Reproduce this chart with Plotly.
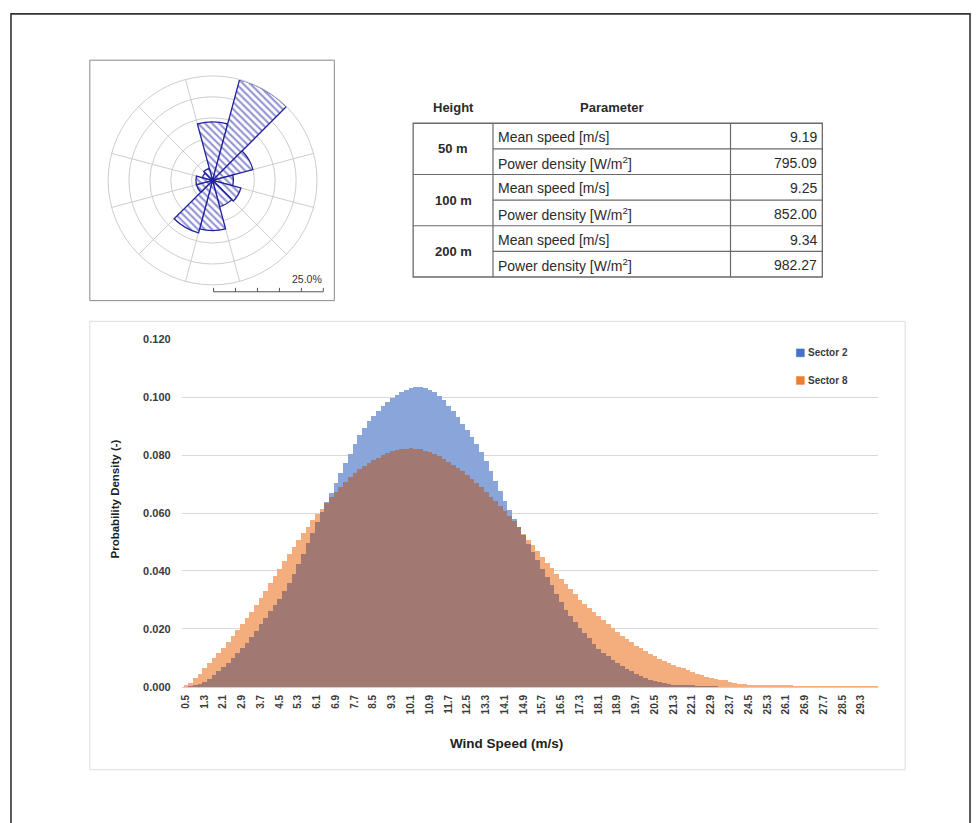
import plotly.graph_objects as go

# ---------------------------------------------------------------------------
# Data
# ---------------------------------------------------------------------------
# Wind speed bins: centres start at 0.5 m/s, 0.2 m/s wide
SPEED_START = 0.5
SPEED_STEP = 0.2

# Probability density per bin, direction sector 2
sector2_pdf = [
    0.0000, 0.0002, 0.0006, 0.0011, 0.0018, 0.0028, 0.0040, 0.0053, 0.0068, 0.0083,
    0.0099, 0.0116, 0.0133, 0.0151, 0.0172, 0.0194, 0.0216, 0.0238, 0.0260, 0.0281,
    0.0304, 0.0331, 0.0360, 0.0390, 0.0425, 0.0460, 0.0496, 0.0532, 0.0567, 0.0602,
    0.0636, 0.0670, 0.0704, 0.0738, 0.0772, 0.0805, 0.0837, 0.0868, 0.0894, 0.0916,
    0.0935, 0.0952, 0.0968, 0.0982, 0.0995, 0.1007, 0.1017, 0.1025, 0.1031, 0.1035,
    0.1035, 0.1032, 0.1025, 0.1016, 0.1004, 0.0988, 0.0970, 0.0951, 0.0930, 0.0908,
    0.0886, 0.0862, 0.0838, 0.0810, 0.0779, 0.0745, 0.0711, 0.0677, 0.0642, 0.0611,
    0.0580, 0.0552, 0.0523, 0.0494, 0.0466, 0.0437, 0.0408, 0.0380, 0.0351, 0.0322,
    0.0294, 0.0266, 0.0243, 0.0223, 0.0204, 0.0186, 0.0167, 0.0148, 0.0130, 0.0117,
    0.0105, 0.0093, 0.0083, 0.0073, 0.0063, 0.0054, 0.0046, 0.0038, 0.0030, 0.0025,
    0.0021, 0.0017, 0.0014, 0.0011, 0.0008, 0.0006, 0.0005, 0.0004, 0.0003, 0.0002,
    0.0002, 0.0001, 0.0001, 0.0001, 0.0000, 0.0000, 0.0000, 0.0000, 0.0000, 0.0000,
    0.0000, 0.0000, 0.0000, 0.0000, 0.0000, 0.0000, 0.0000, 0.0000, 0.0000, 0.0000,
    0.0000, 0.0000, 0.0000, 0.0000, 0.0000, 0.0000, 0.0000, 0.0000, 0.0000, 0.0000,
    0.0000, 0.0000, 0.0000, 0.0000, 0.0000, 0.0000, 0.0000, 0.0000,
]

# Probability density per bin, direction sector 8
sector8_pdf = [
    0.0005, 0.0015, 0.0030, 0.0046, 0.0064, 0.0081, 0.0099, 0.0117, 0.0135, 0.0155,
    0.0176, 0.0197, 0.0218, 0.0238, 0.0259, 0.0282, 0.0306, 0.0332, 0.0358, 0.0383,
    0.0408, 0.0433, 0.0458, 0.0483, 0.0507, 0.0531, 0.0553, 0.0574, 0.0595, 0.0615,
    0.0635, 0.0654, 0.0672, 0.0690, 0.0708, 0.0723, 0.0738, 0.0751, 0.0762, 0.0773,
    0.0783, 0.0791, 0.0799, 0.0806, 0.0812, 0.0817, 0.0820, 0.0822, 0.0823, 0.0822,
    0.0819, 0.0815, 0.0809, 0.0803, 0.0795, 0.0786, 0.0777, 0.0766, 0.0755, 0.0743,
    0.0730, 0.0716, 0.0702, 0.0688, 0.0672, 0.0656, 0.0640, 0.0625, 0.0608, 0.0590,
    0.0571, 0.0550, 0.0529, 0.0508, 0.0488, 0.0468, 0.0448, 0.0428, 0.0409, 0.0391,
    0.0373, 0.0355, 0.0337, 0.0319, 0.0301, 0.0287, 0.0272, 0.0258, 0.0244, 0.0230,
    0.0216, 0.0203, 0.0190, 0.0177, 0.0166, 0.0154, 0.0142, 0.0133, 0.0124, 0.0115,
    0.0106, 0.0097, 0.0089, 0.0081, 0.0075, 0.0069, 0.0064, 0.0058, 0.0051, 0.0044,
    0.0040, 0.0035, 0.0031, 0.0028, 0.0025, 0.0022, 0.0018, 0.0014, 0.0011, 0.0009,
    0.0008, 0.0007, 0.0006, 0.0005, 0.0005, 0.0004, 0.0004, 0.0003, 0.0003, 0.0003,
    0.0002, 0.0002, 0.0002, 0.0002, 0.0002, 0.0001, 0.0001, 0.0001, 0.0001, 0.0001,
    0.0001, 0.0001, 0.0001, 0.0001, 0.0001, 0.0001, 0.0001, 0.0001,
]

assert len(sector2_pdf) == len(sector8_pdf)
speeds = [round(SPEED_START + SPEED_STEP * i, 1) for i in range(len(sector2_pdf))]

# Category labels shown on the speed axis
speed_tick_labels = [
    "0.5", "1.3", "2.1", "2.9", "3.7", "4.5", "5.3", "6.1", "6.9", "7.7",
    "8.5", "9.3", "10.1", "10.9", "11.7", "12.5", "13.3", "14.1", "14.9", "15.7",
    "16.5", "17.3", "18.1", "18.9", "19.7", "20.5", "21.3", "22.1", "22.9", "23.7",
    "24.5", "25.3", "26.1", "26.9", "27.7", "28.5", "29.3",
]
speed_tick_vals = [float(t) for t in speed_tick_labels]

density_ticks = [0.0, 0.02, 0.04, 0.06, 0.08, 0.10, 0.12]

# Wind rose: frequency (%) for 12 direction sectors of 30 degrees
rose_directions = [0, 30, 60, 90, 120, 150, 180, 210, 240, 270, 300, 330]
rose_frequency = [14.0, 25.0, 10.0, 5.0, 7.0, 6.5, 12.0, 13.0, 4.0, 4.0, 2.5, 3.0]
rose_rings = [5, 10, 15, 20, 25]
rose_scale_label = "25.0%"

# Summary table
table_heights = ["50 m", "100 m", "200 m"]
table_params = ["Mean speed [m/s]", "Power density [W/m<sup>2</sup>]"]
table_mean_speed = [9.19, 9.25, 9.34]
table_power_density = [795.09, 852.00, 982.27]

# ---------------------------------------------------------------------------
# Page geometry (pixels -> paper fractions)
# ---------------------------------------------------------------------------
W, H = 977, 823


def px(x):
    return x / W


def py(y):
    return 1 - y / H


FONT = "Liberation Sans"
TXT = "#2b2b2b"
AX_TXT = "#3a3a3a"

BLUE = "rgb(68,114,196)"
ORANGE = "rgb(237,125,49)"
BLUE_FILL = "rgb(138,165,218)"
ORANGE_FILL = "rgb(244,174,126)"
MIX_FILL = "rgb(162,121,114)"

fig = go.Figure()

# Sector 2 bars, sector 8 bars, and the shared part where both overlap
fig.add_trace(go.Bar(
    x=speeds, y=sector2_pdf, width=SPEED_STEP, name="Sector 2",
    marker=dict(color=BLUE_FILL, line=dict(width=0)), showlegend=False,
    xaxis="x", yaxis="y",
))
fig.add_trace(go.Bar(
    x=speeds, y=sector8_pdf, width=SPEED_STEP, name="Sector 8",
    marker=dict(color=ORANGE_FILL, line=dict(width=0)), showlegend=False,
    xaxis="x", yaxis="y",
))
fig.add_trace(go.Bar(
    x=speeds, y=[min(a, b) for a, b in zip(sector2_pdf, sector8_pdf)],
    width=SPEED_STEP, name="overlap",
    marker=dict(color=MIX_FILL, line=dict(width=0)), showlegend=False,
    hoverinfo="skip", xaxis="x", yaxis="y",
))

# Wind rose
fig.add_trace(go.Barpolar(
    r=rose_frequency, theta=rose_directions, width=[30] * len(rose_directions),
    marker=dict(
        color="white",
        line=dict(color="#2222a0", width=1.3),
        pattern=dict(shape="\\", fgcolor="#2a2aa8", bgcolor="white",
                     size=5, solidity=0.42),
    ),
    showlegend=False, subplot="polar",
))

shapes = []
annotations = []


def line(x0, y0, x1, y1, color, width=1.0):
    shapes.append(dict(type="line", xref="paper", yref="paper",
                       x0=px(x0), y0=py(y0), x1=px(x1), y1=py(y1),
                       line=dict(color=color, width=width)))


def rect(x0, y0, x1, y1, color, width=1.0, fill=None):
    shapes.append(dict(type="rect", xref="paper", yref="paper",
                       x0=px(x0), y0=py(y0), x1=px(x1), y1=py(y1),
                       line=dict(color=color, width=width),
                       fillcolor=fill if fill else "rgba(0,0,0,0)",
                       layer="above"))


def text(x, y, s, size=13, xanchor="center", color=TXT, angle=0):
    annotations.append(dict(x=px(x), y=py(y), xref="paper", yref="paper",
                            text=s, showarrow=False, xanchor=xanchor,
                            yanchor="middle", textangle=angle,
                            font=dict(family=FONT, size=size, color=color)))


# Page frame
rect(9, 8, 970, 860, "#333333", 1.6)

# Wind rose frame, scale label and scale bar
rect(88, 55, 333, 299, "#8a8a8a", 1.0)
text(323, 277, rose_scale_label, size=10.5, xanchor="right", color="#333333")
line(212, 290, 322, 290, "#555555", 1.0)
for k in range(6):
    xt = 212 + k * 22
    line(xt, 286, xt, 290, "#555555", 1.0)

# Summary table
col_x = [412, 492, 730, 822]
row_y = [119 + 26 * k for k in range(7)]
tcol = "#6a6a6a"
rect(col_x[0], row_y[0], col_x[-1], row_y[-1], tcol, 1.3)
for xc in col_x[1:-1]:
    line(xc, row_y[0], xc, row_y[-1], tcol, 1.2)
for k in range(1, 6):
    x_start = col_x[0] if k % 2 == 0 else col_x[1]
    line(x_start, row_y[k], col_x[-1], row_y[k], tcol, 1.2)

text(452, 103, "<b>Height</b>", size=13)
text(611, 103, "<b>Parameter</b>", size=13)
for g, h in enumerate(table_heights):
    text((col_x[0] + col_x[1]) / 2, row_y[2 * g + 1], f"<b>{h}</b>", size=13)
    values = [table_mean_speed[g], table_power_density[g]]
    for j in range(2):
        yc = (row_y[2 * g + j] + row_y[2 * g + j + 1]) / 2 + 1
        text(col_x[1] + 3, yc, table_params[j], size=14, xanchor="left")
        text(col_x[3] - 3, yc, f"{values[j]:.2f}", size=14, xanchor="right")

# Chart frame
rect(88, 320, 905, 775, "#dcdcdc", 1.0)

# Legend
for yy, col, name in [(352, BLUE, "Sector 2"), (380, ORANGE, "Sector 8")]:
    rect(796, yy - 4, 804, yy + 4, col, 0.5, fill=col)
    text(806, yy, f"<b>{name}</b>", size=10, xanchor="left", color=AX_TXT)

# Axis titles
text(506, 748, "<b>Wind Speed (m/s)</b>", size=13.5, color="#222222")
text(113, 500, "<b>Probability Density (-)</b>", size=11.5, color="#222222",
     angle=-90)

fig.update_layout(
    width=W, height=H,
    margin=dict(l=0, r=0, t=0, b=0),
    paper_bgcolor="white", plot_bgcolor="white",
    barmode="overlay", bargap=0,
    showlegend=False,
    font=dict(family=FONT, color=AX_TXT),
    xaxis=dict(
        domain=[px(180), px(878)], range=[0.33, 30.03],
        tickmode="array", tickvals=speed_tick_vals, ticktext=speed_tick_labels,
        tickangle=-90, tickfont=dict(size=10, color=AX_TXT, weight="bold"),
        ticks="", showgrid=False, zeroline=False,
        showline=True, linecolor="#d0d0d0", linewidth=1,
        ticklabelstandoff=3, anchor="y",
    ),
    yaxis=dict(
        domain=[py(691), py(338)], range=[0, 0.12],
        tickmode="array", tickvals=density_ticks, tickformat=".3f",
        tickfont=dict(size=11, color=AX_TXT, weight="bold"),
        ticks="", showgrid=True, gridcolor="#d9d9d9", gridwidth=1,
        zeroline=False, showline=False, ticklabelstandoff=10, anchor="x",
    ),
    polar=dict(
        domain=dict(x=[px(105), px(317)], y=[py(283), py(71)]),
        bgcolor="white",
        radialaxis=dict(range=[0, 25], tickmode="array", tickvals=rose_rings,
                        showticklabels=False, ticks="", showline=False,
                        gridcolor="#cdcdcd", gridwidth=1),
        angularaxis=dict(direction="clockwise", rotation=90,
                         tickmode="array", tickvals=[15 + 30 * k for k in range(12)],
                         showticklabels=False, ticks="", showline=True,
                         linecolor="#cdcdcd", gridcolor="#cdcdcd", gridwidth=1),
    ),
    shapes=shapes,
    annotations=annotations,
)

fig.write_html("out.html")
